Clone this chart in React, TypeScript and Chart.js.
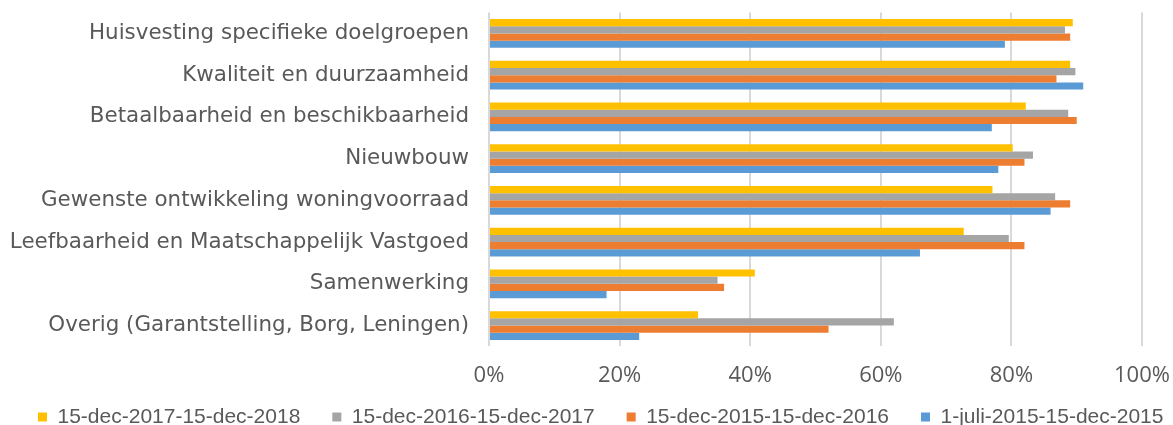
import React, { useEffect, useRef } from "react";
import { Chart, registerables } from "chart.js";

Chart.register(...registerables);

const categories = [
  "Huisvesting specifieke doelgroepen",
  "Kwaliteit en duurzaamheid",
  "Betaalbaarheid en beschikbaarheid",
  "Nieuwbouw",
  "Gewenste ontwikkeling woningvoorraad",
  "Leefbaarheid en Maatschappelijk Vastgoed",
  "Samenwerking",
  "Overig (Garantstelling, Borg, Leningen)",
];

const seriesNames = [
  "15-dec-2017-15-dec-2018",
  "15-dec-2016-15-dec-2017",
  "15-dec-2015-15-dec-2016",
  "1-juli-2015-15-dec-2015",
];

const values2017_2018 = [89.4, 89.0, 82.2, 80.2, 77.1, 72.7, 40.7, 32.0];
const values2016_2017 = [88.2, 89.8, 88.7, 83.3, 86.7, 79.6, 35.0, 62.0];
const values2015_2016 = [89.0, 86.9, 90.0, 82.0, 89.0, 82.0, 36.0, 52.0];
const values2015 = [79.0, 91.0, 77.0, 78.0, 86.0, 66.0, 18.0, 23.0];

const seriesColors = ["#FFC000", "#A5A5A5", "#ED7D31", "#5B9BD5"];

const xTicks = [0, 20, 40, 60, 80, 100];

export default function App() {
  const canvasRef = useRef<HTMLCanvasElement | null>(null);

  useEffect(() => {
    if (!canvasRef.current) return;
    const allValues = [values2017_2018, values2016_2017, values2015_2016, values2015];

    const legendTweak = {
      id: "legendTweak",
      beforeInit(chart: any) {
        const legend = chart.legend;
        if (legend) {
          const orig = legend.fit;
          legend.fit = function () {
            orig.call(this);
            this.height = 19.2;
          };
        }
      },
      afterLayout(chart: any) {
        const legend = chart.legend;
        if (legend) {
          legend.right = chart.width + 400;
          legend.top = 374.5;
        }
      },
    };

    const chart = new Chart(canvasRef.current, {
      type: "bar",
      data: {
        labels: categories,
        datasets: seriesNames.map((name, i) => ({
          label: name,
          data: allValues[i],
          backgroundColor: seriesColors[i],
          borderWidth: 0,
          barPercentage: 1,
          categoryPercentage: 0.69,
        })),
      },
      options: {
        indexAxis: "y",
        animation: false,
        responsive: true,
        maintainAspectRatio: false,
        devicePixelRatio: 1,
        layout: { padding: { left: 6, right: 0, top: 12.6, bottom: 0 } },
        plugins: {
          tooltip: { enabled: false },
          legend: {
            position: "bottom",
            align: "start",
            labels: {
              boxWidth: 9,
              boxHeight: 9,
              padding: 32,
              color: "#595959",
              font: { family: "'Liberation Sans', Arial, sans-serif", size: 21 },
            },
          },
        },
        scales: {
          x: {
            min: 0,
            max: 100,
            afterBuildTicks(scale: any) {
              scale.ticks = xTicks.map((v) => ({ value: v }));
            },
            afterFit(scale: any) {
              scale.paddingRight = 31;
              scale.paddingLeft = 0;
            },
            grid: { color: "#D9D9D9", lineWidth: 2, drawTicks: false },
            border: { display: false },
            ticks: {
              padding: 16.5,
              color: "#595959",
              font: { family: "'Open Sans', sans-serif", size: 22 },
              callback: (v: any) => v + "%",
            },
          },
          y: {
            afterFit(scale: any) {
              scale.width = 483;
              scale.paddingTop = 0;
              scale.paddingBottom = 0;
            },
            grid: { display: false, drawTicks: false },
            border: { display: false },
            ticks: {
              padding: 20,
              color: "#595959",
              font: { family: "'DejaVu Sans', Verdana, sans-serif", size: 21.4 },
            },
          },
        },
      },
      plugins: [legendTweak],
    });
    return () => chart.destroy();
  }, []);

  return (
    <div style={{ position: "absolute", left: 0, top: 0, width: 1173, height: 425, background: "#fff" }}>
      <canvas ref={canvasRef} />
    </div>
  );
}
